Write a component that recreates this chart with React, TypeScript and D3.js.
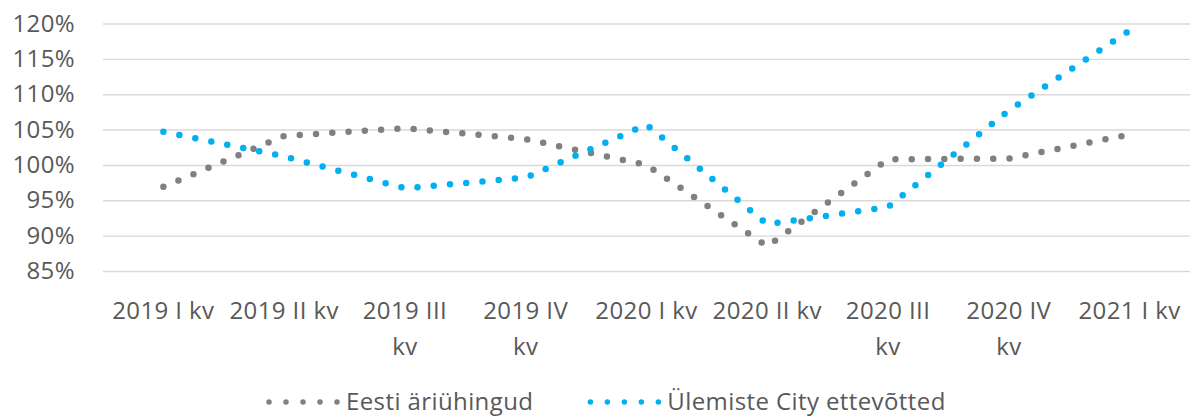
import React, { useEffect, useRef } from 'react';
import * as d3 from 'd3';

// quarters on the x axis, and how the labels wrap in the original
const quarters = ['2019 I kv', '2019 II kv', '2019 III kv', '2019 IV kv', '2020 I kv', '2020 II kv', '2020 III kv', '2020 IV kv', '2021 I kv'];
const quarterLines = [
  ['2019 I kv'], ['2019 II kv'], ['2019 III', 'kv'], ['2019 IV', 'kv'], ['2020 I kv'],
  ['2020 II kv'], ['2020 III', 'kv'], ['2020 IV', 'kv'], ['2021 I kv'],
];

// index values, %
const eestiValues = [96.9, 104.1, 105.2, 103.65, 100.0, 88.5, 100.8, 100.9, 104.3];
const ylemisteValues = [104.7, 101.2, 96.7, 98.2, 105.7, 91.6, 94.05, 107.7, 119.0];

const yTicks = [85, 90, 95, 100, 105, 110, 115, 120];
const seriesNames = ['Eesti äriühingud', 'Ülemiste City ettevõtted'];

const colors = ['#808080', '#00b0f0'];
const textColor = '#595959';
const font = "'Open Sans', sans-serif";

const WIDTH = 1192;
const HEIGHT = 417;

function styleText(sel: any) {
  sel.attr('fill', textColor)
    .style('font-family', font)
    .style('font-size', '24px')
    .style('letter-spacing', '0.4px');
}

export default function App() {
  const ref = useRef<SVGSVGElement>(null);

  useEffect(() => {
    const svg = d3.select(ref.current);
    svg.selectAll('*').remove();

    const left = 103;
    const right = 1190;
    const top = 23.5;
    const bottom = 271;

    const x = d3.scalePoint<string>().domain(quarters).range([left, right]).padding(0.5);
    const y = d3.scaleLinear().domain([85, 120]).range([bottom, top]);

    // gridlines + y labels
    const yAxis = d3.axisLeft(y)
      .tickValues(yTicks)
      .tickFormat((d) => d + '%')
      .tickSize(-(right - left))
      .tickPadding(left - 75);
    const gy = svg.append('g').attr('transform', 'translate(' + left + ',0)').call(yAxis);
    gy.select('.domain').remove();
    gy.selectAll('.tick line').attr('stroke', '#d9d9d9').attr('stroke-width', 1.4);
    gy.selectAll('.tick text').call(styleText);

    // x labels
    const gx = svg.append('g');
    quarterLines.forEach((lines, i) => {
      const t = gx.append('text')
        .attr('x', x(quarters[i]) as number)
        .attr('text-anchor', 'middle')
        .call(styleText);
      lines.forEach((ln, j) => {
        t.append('tspan').attr('x', x(quarters[i]) as number).attr('y', 319 + j * 36).text(ln);
      });
    });

    // series, round-dot lines
    const line = d3.line<number>()
      .x((d, i) => x(quarters[i]) as number)
      .y((d) => y(d));

    [eestiValues, ylemisteValues].forEach((values, s) => {
      svg.append('path')
        .datum(values)
        .attr('d', line)
        .attr('fill', 'none')
        .attr('stroke', colors[s])
        .attr('stroke-width', 6.5)
        .attr('stroke-linecap', 'round')
        .attr('stroke-dasharray', '0 16.3');
    });

    // legend
    const legend = svg.append('g');
    let lx = 269;
    const sampleLen = 68;
    seriesNames.forEach((name, s) => {
      legend.append('line')
        .attr('x1', lx).attr('x2', lx + sampleLen + 0.1)
        .attr('y1', 402).attr('y2', 402)
        .attr('stroke', colors[s])
        .attr('stroke-width', 5.5)
        .attr('stroke-linecap', 'round')
        .attr('stroke-dasharray', '0 ' + sampleLen / 4);
      const t = legend.append('text')
        .attr('x', lx + 77)
        .attr('y', 410)
        .call(styleText)
        .text(name);
      const w = (t.node() as SVGTextElement).getComputedTextLength();
      lx = lx + 77 + w + 57;
    });
  }, []);

  return (
    <svg
      ref={ref}
      width={WIDTH}
      height={HEIGHT}
      style={{ position: 'absolute', left: 0, top: 0, background: '#fff' }}
    />
  );
}
